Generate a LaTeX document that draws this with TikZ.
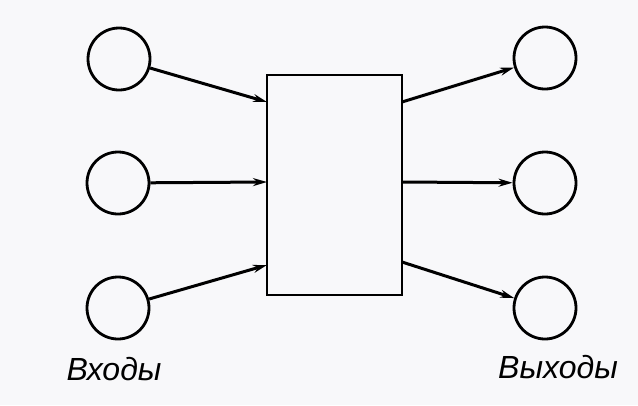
\documentclass[tikz,border=0pt]{standalone}
\usepackage{fontspec}
\setmainfont{Liberation Sans}
\usetikzlibrary{arrows.meta}
\definecolor{paper}{RGB}{248,248,250}
\begin{document}
\begin{tikzpicture}[x=1pt,y=-1pt,
  port/.style={circle,draw,line width=2.8pt,minimum size=62pt,inner sep=0pt},
  box/.style={draw,line width=2.6pt,minimum width=135pt,minimum height=220pt,inner sep=0pt},
  link/.style={line width=3pt,-{Stealth[length=14pt,width=8pt]}},
  lbl/.style={font=\fontsize{32}{32}\selectfont\itshape,anchor=base}]
\fill[paper] (0,0) rectangle (638,405);
\useasboundingbox (0,0) rectangle (638,405);
\node[box] (B) at (334.5,185) {};
\node[port] (i1) at (119,59) {};
\node[port] (i2) at (118,183) {};
\node[port] (i3) at (118,308) {};
\node[port] (o1) at (545,58) {};
\node[port] (o2) at (545,183) {};
\node[port] (o3) at (545,308) {};
\coordinate (bi1) at (267,102);
\coordinate (bi2) at (267,182);
\coordinate (bi3) at (267,265);
\coordinate (bo1) at (402,102);
\coordinate (bo2) at (402,182);
\coordinate (bo3) at (402,262);
\draw[link] (i1) -- (bi1);
\draw[link] (i2) -- (bi2);
\draw[link] (i3) -- (bi3);
\draw[link] (bo1) -- (o1);
\draw[link] (bo2) -- (o2);
\draw[link] (bo3) -- (o3);
\node[lbl] (lin) at (114,380) {Входы};
\node[lbl] (lout) at (558,378) {Выходы};
\end{tikzpicture}
\end{document}
